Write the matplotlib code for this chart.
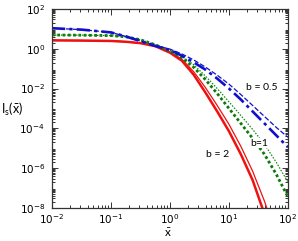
import matplotlib
matplotlib.use("Agg")
import matplotlib.pyplot as plt
import numpy as np

# log10(x) grid and log10(I_s)
lx = [-2, -1.5, -1, -0.75, -0.5, -0.25, 0, 0.2, 0.4, 0.6, 0.8, 1.0, 1.2, 1.4, 1.6, 1.8, 2.0]

red_thick = [0.42, 0.41, 0.39, 0.35, 0.28, 0.13, -0.2, -0.6, -1.3, -2.2, -3.15, -4.15, -5.3, -6.6, -8.3, -10.2, -12.3]
red_thin = [0.42, 0.41, 0.39, 0.35, 0.28, 0.14, -0.16, -0.52, -1.15, -1.95, -2.85, -3.8, -4.9, -6.15, -7.65, -9.4, -11.3]
green_thick = [0.69, 0.68, 0.66, 0.6, 0.45, 0.2, -0.12, -0.45, -0.93, -1.55, -2.25, -3.0, -3.75, -4.5, -5.3, -6.3, -7.45]
green_thin = [0.69, 0.68, 0.66, 0.6, 0.45, 0.21, -0.08, -0.37, -0.8, -1.37, -2.0, -2.67, -3.35, -4.05, -4.8, -5.7, -6.7]
blue_thick = [1.03, 0.96, 0.82, 0.62, 0.38, 0.14, -0.06, -0.35, -0.68, -1.05, -1.5, -2.0, -2.55, -3.15, -3.75, -4.35, -4.95]
blue_thin = [1.03, 0.96, 0.82, 0.62, 0.39, 0.16, -0.02, -0.26, -0.56, -0.92, -1.33, -1.78, -2.3, -2.85, -3.4, -3.95, -4.45]

labels = ["b = 0.5", "b=1", "b = 2"]
label_pos = [(36, 10 ** -1.97), (32, 10 ** -4.74), (6.3, 10 ** -5.3)]

plt.rcParams["mathtext.fontset"] = "custom"
plt.rcParams["mathtext.rm"] = "Liberation Serif"
plt.rcParams["mathtext.it"] = "Liberation Serif:italic"
plt.rcParams["mathtext.sf"] = "Lato"
plt.rcParams["mathtext.default"] = "rm"

x = 10.0 ** np.array(lx)
fig = plt.figure(figsize=(2.98, 2.41), dpi=100)
ax = fig.add_axes([0.1745, 0.137, 0.792, 0.826])

ax.plot(x, 10.0 ** np.array(red_thick), color="#ee1111", lw=1.8)
ax.plot(x, 10.0 ** np.array(red_thin), color="#ee1111", lw=0.9)
ax.plot(x, 10.0 ** np.array(green_thick), color="#0a7a0a", lw=2.0, dashes=(1.0, 0.9))
ax.plot(x, 10.0 ** np.array(green_thin), color="#1a8a1a", lw=0.9, dashes=(1.2, 1.2))
ax.plot(x, 10.0 ** np.array(blue_thick), color="#1010cc", lw=1.9, dashes=(5, 1.6, 1.2, 1.6))
ax.plot(x, 10.0 ** np.array(blue_thin), color="#1010cc", lw=0.9, dashes=(4, 1.6))

ax.set_xscale("log")
ax.set_yscale("log")
ax.set_xlim(1e-2, 1e2)
ax.set_ylim(1e-8, 1e2)
ax.set_xticks([1e-2, 1e-1, 1e0, 1e1, 1e2])
ax.set_yticks([1e-8, 1e-6, 1e-4, 1e-2, 1e0, 1e2])
ax.yaxis.set_minor_locator(matplotlib.ticker.LogLocator(base=10, subs=np.arange(2, 10), numticks=30))
ax.yaxis.set_minor_formatter(matplotlib.ticker.NullFormatter())

ax.tick_params(which="both", direction="in", top=True, right=True, colors="#333333",
               labelcolor="black", width=0.7)
ax.tick_params(which="major", length=4, pad=5, labelsize=7.5)
ax.tick_params(axis="x", which="major", pad=3)
ax.tick_params(which="minor", length=2)
for s in ax.spines.values():
    s.set_color("#333333")
    s.set_linewidth(0.9)

for t, (px, py) in zip(labels, label_pos):
    ax.text(px, py, t, fontsize=7.5, family="Lato", ha="center", va="center",
            bbox=dict(facecolor="white", edgecolor="none", pad=0.5))

fig.text(0.003, 0.545, r"$\mathsf{I_s(\bar{x})}$", fontsize=9, ha="left", va="center")
fig.text(0.563, 0.003, r"$\mathsf{\bar{x}}$", fontsize=8.5, ha="center", va="bottom")

fig.savefig("out.png", dpi=100)
